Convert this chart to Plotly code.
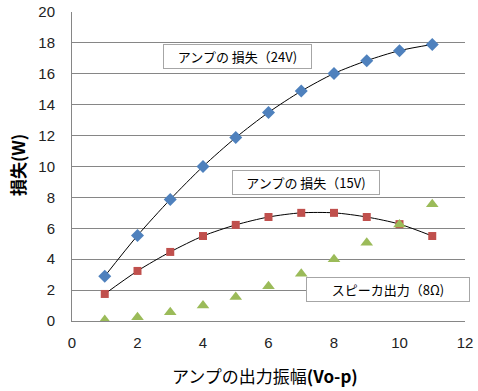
import plotly.graph_objects as go

amplitude = [1, 2, 3, 4, 5, 6, 7, 8, 9, 10, 11]
loss_24v = [2.9, 5.53, 7.87, 10.0, 11.87, 13.5, 14.88, 16.02, 16.85, 17.5, 17.9]
loss_15v = [1.75, 3.24, 4.47, 5.5, 6.22, 6.73, 7.0, 7.0, 6.73, 6.27, 5.5]
speaker_8ohm = [0.06, 0.25, 0.56, 1.0, 1.56, 2.25, 3.06, 4.0, 5.06, 6.25, 7.56]

label_24v = "アンプの 損失（24V)"
label_15v = "アンプの 損失（15V)"
label_spk = "スピーカ出力（8Ω)"
x_title = "アンプの出力振幅<b>(Vo-p)</b>"
y_title = "<b>損失(W)</b>"

JP = "Noto Sans CJK JP"
NUM = "Liberation Sans"

fig = go.Figure()
fig.add_trace(go.Scatter(
    x=amplitude, y=loss_24v, mode="lines+markers",
    line=dict(color="#000000", width=1, shape="spline", smoothing=0.8),
    marker=dict(symbol="diamond", size=10, color="#4F81BD"),
    showlegend=False))
fig.add_trace(go.Scatter(
    x=amplitude, y=loss_15v, mode="lines+markers",
    line=dict(color="#000000", width=1, shape="spline", smoothing=0.8),
    marker=dict(symbol="square", size=8, color="#C0504D"),
    showlegend=False))
fig.add_trace(go.Scatter(
    x=amplitude, y=speaker_8ohm, mode="markers",
    marker=dict(symbol="triangle-up", size=11, color="#9BBB59"),
    showlegend=False))

def box(text, x, y, w):
    return dict(text=text, xref="paper", yref="paper", x=x, y=y,
                xanchor="left", yanchor="top", showarrow=False,
                font=dict(family=JP, size=13, color="#000000"),
                bgcolor="#FFFFFF", bordercolor="#A6A6A6", borderwidth=1,
                borderpad=3, width=w, height=17, align="center")

fig.update_layout(
    width=478, height=391,
    margin=dict(l=72, r=13, t=12, b=70),
    paper_bgcolor="#FFFFFF", plot_bgcolor="#FFFFFF",
    xaxis=dict(range=[0, 12], dtick=2, showgrid=False, zeroline=False,
               showline=True, linecolor="#868686", linewidth=1,
               ticks="", ticklabelstandoff=8, automargin=False,
               tickfont=dict(family=NUM, size=15, color="#222222")),
    yaxis=dict(range=[0, 20], dtick=2, showgrid=True, gridcolor="#868686",
               gridwidth=1, zeroline=False, showline=True, linecolor="#868686",
               linewidth=1, ticks="", ticklabelstandoff=13, automargin=False,
               tickfont=dict(family=NUM, size=15, color="#222222")),
    annotations=[
        box(label_24v, 0.2316, 0.8964, 141),
        box(label_15v, 0.4071, 0.4887, 140),
        box(label_spk, 0.5954, 0.1424, 156),
        dict(text=x_title, xref="paper", yref="paper", x=0.491, y=-0.175,
             xanchor="center", yanchor="middle", showarrow=False,
             font=dict(family=JP, size=17, color="#000000")),
        dict(text=y_title, xref="paper", yref="paper", x=-0.137, y=0.505,
             xanchor="center", yanchor="middle", showarrow=False, textangle=-90,
             font=dict(family=JP, size=17, color="#000000")),
    ],
)

fig.write_html("out.html", config={"displayModeBar": False},
               post_script="document.body.style.margin='0px';document.body.style.overflow='hidden';")
